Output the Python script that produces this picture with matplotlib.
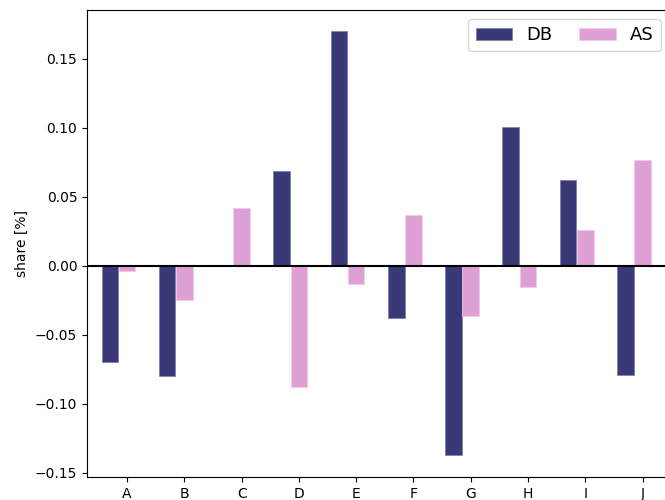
import matplotlib
matplotlib.use("Agg")
import matplotlib.pyplot as plt
import numpy as np

categories = ["A", "B", "C", "D", "E", "F", "G", "H", "I", "J"]
db_values = [-0.070, -0.080, 0.0, 0.069, 0.170, -0.038, -0.137, 0.101, 0.062, -0.079]
as_values = [-0.004, -0.025, 0.042, -0.088, -0.013, 0.037, -0.036, -0.015, 0.026, 0.077]

fig = plt.figure(figsize=(6.65, 5.0), dpi=100)
ax = fig.add_axes([87/665, 23/500, (670-87)/665, (477-10)/500])

x = np.arange(len(categories))
w = 0.29
ax.bar(x - 0.3, db_values, width=w, color="#393978", edgecolor="#7a7aa8", linewidth=0.5, label="DB")
ax.bar(x, as_values, width=w, color="#dfa0d6", edgecolor="#eecbe8", linewidth=0.5, label="AS")
ax.axhline(0, color="black", linewidth=1.5)

ax.set_xticks(x)
ax.set_xticklabels(categories)
ax.set_xlim(-0.7, 9.48)
ax.set_ylim(-0.153, 0.1855)
ax.set_yticks([-0.15, -0.10, -0.05, 0.0, 0.05, 0.10, 0.15])
ax.set_ylabel("share [%]")
ax.legend(loc="upper right", ncol=2, fontsize=13, columnspacing=1.5)

fig.savefig("out.png", dpi=100)
